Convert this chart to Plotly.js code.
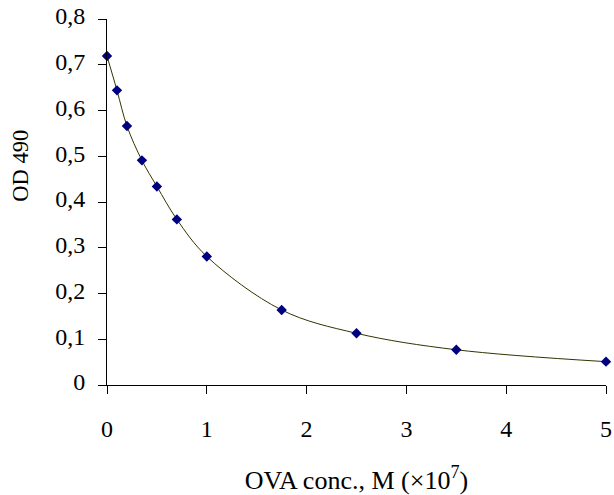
<!DOCTYPE html>
<html>
<head>
<meta charset="utf-8">
<script src="https://cdn.plot.ly/plotly-3.0.1.min.js"></script>
<style>html,body{margin:0;padding:0;background:#fff}#chart{width:614px;height:495px}</style>
</head>
<body>
<div id="chart"></div>
<script>
var concentration = [0, 0.1, 0.2, 0.35, 0.5, 0.7, 1.0, 1.75, 2.5, 3.5, 5.0];
var od490 = [0.719, 0.644, 0.566, 0.491, 0.434, 0.362, 0.281, 0.164, 0.113, 0.077, 0.051];
var xTicks = [0, 1, 2, 3, 4, 5];
var yTicks = [0, 0.1, 0.2, 0.3, 0.4, 0.5, 0.6, 0.7, 0.8];
var xTitle = 'OVA conc., M (×10<sup>7</sup>)';
var yTitle = 'OD 490';

var font = 'Liberation Serif';

var trace = {
  x: concentration,
  y: od490,
  type: 'scatter',
  mode: 'lines+markers',
  line: {shape: 'spline', smoothing: 1, color: '#333300', width: 1},
  marker: {symbol: 'diamond', size: 8, color: '#000080', line: {width: 0}},
  cliponaxis: false,
  showlegend: false
};

var layout = {
  width: 614,
  height: 495,
  margin: {l: 107, r: 8, t: 19, b: 110},
  paper_bgcolor: '#ffffff',
  plot_bgcolor: '#ffffff',
  separators: ', ',
  font: {family: font, size: 24, color: '#000000'},
  xaxis: {
    range: [0, 5],
    tickvals: xTicks,
    showgrid: false,
    zeroline: false,
    showline: true,
    linecolor: '#000000',
    linewidth: 1,
    ticks: 'outside',
    ticklen: 8,
    tickwidth: 1,
    tickcolor: '#000000',
    ticklabelstandoff: 14,
    tickfont: {family: font, size: 24, color: '#000000'},
    title: {text: xTitle, font: {family: font, size: 26, color: '#000000'}, standoff: 45}
  },
  yaxis: {
    range: [0, 0.8],
    tickvals: yTicks,
    tickformat: '.1~f',
    showgrid: false,
    zeroline: false,
    showline: true,
    linecolor: '#000000',
    linewidth: 1,
    ticks: 'outside',
    ticklen: 8,
    tickwidth: 1,
    tickcolor: '#000000',
    ticklabelstandoff: 8,
    ticklabelshift: -3,
    tickfont: {family: font, size: 24, color: '#000000'}
  },
  annotations: [{
    text: yTitle,
    xref: 'paper', yref: 'paper',
    x: -0.1733, y: 0.598,
    xanchor: 'center', yanchor: 'middle',
    textangle: -90,
    showarrow: false,
    font: {family: font, size: 22.5, color: '#000000'}
  }]
};

Plotly.newPlot('chart', [trace], layout, {staticPlot: true, displayModeBar: false});
</script>
</body>
</html>
